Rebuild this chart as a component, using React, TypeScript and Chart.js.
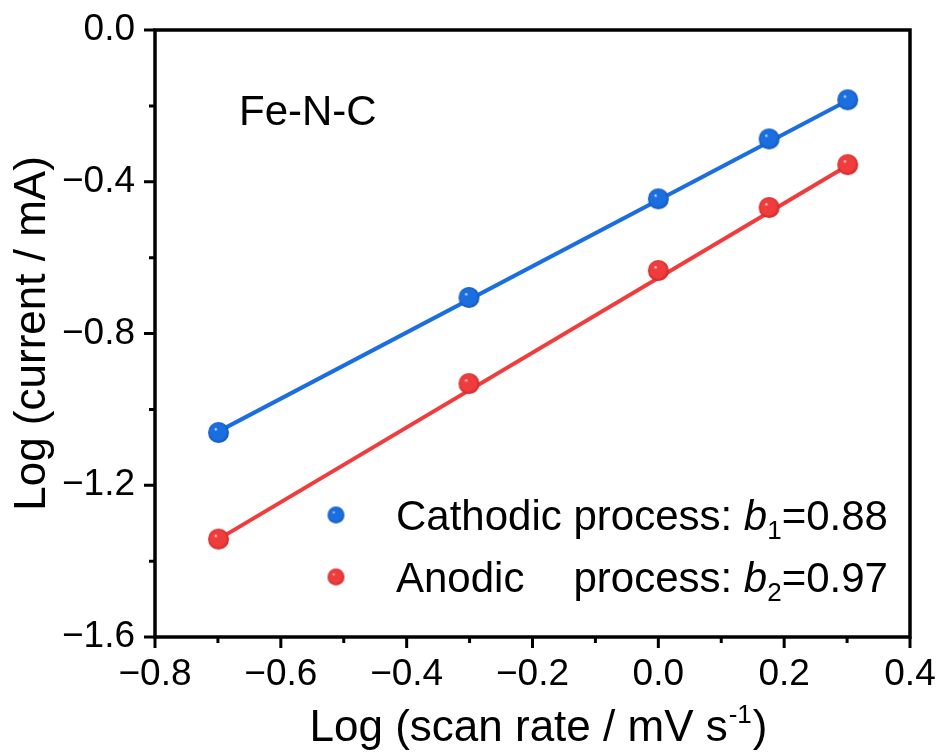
import React, { useEffect, useRef } from 'react';
import { Chart, registerables } from 'chart.js';

Chart.register(...registerables);

// ---- data ----
const scanRateLog = [-0.699, -0.301, 0, 0.176, 0.301];
const cathodicLogCurrent = [-1.061, -0.705, -0.445, -0.287, -0.184];
const anodicLogCurrent = [-1.342, -0.932, -0.634, -0.468, -0.355];
const cathodicFitX = [-0.699, 0.301];
const cathodicFitY = [-1.058, -0.186];
const anodicFitX = [-0.699, 0.301];
const anodicFitY = [-1.342, -0.357];
const xTicks = [-0.8, -0.6, -0.4, -0.2, 0.0, 0.2, 0.4];
const yTicks = [0.0, -0.4, -0.8, -1.2, -1.6];
const cathodicLabel = ['Cathodic', 'process:', 'b', '1', '=0.88'];
const anodicLabel = ['Anodic', 'process:', 'b', '2', '=0.97'];
const sampleLabel = 'Fe-N-C';
const xTitleMain = 'Log (scan rate / mV s';
const xTitleSup = '-1';
const xTitleEnd = ')';
const yTitle = 'Log (current / mA)';

const BLUE = '#1b6ee0';
const RED = '#f03c3c';
const BLUE_DARK = '#1457b8';
const RED_DARK = '#c82a2a';
const FONT = '"Liberation Sans", Arial, sans-serif';

function makeSphere(color: string, dark: string, r: number): HTMLCanvasElement {
  const c = document.createElement('canvas');
  const size = Math.ceil(r * 2 + 2);
  c.width = size;
  c.height = size;
  const g = c.getContext('2d')!;
  const cx = size / 2;
  const cy = size / 2;
  const grad = g.createRadialGradient(cx - r * 0.3, cy - r * 0.35, 0, cx, cy, r);
  grad.addColorStop(0, '#ffffff');
  grad.addColorStop(0.18, color);
  grad.addColorStop(0.75, color);
  grad.addColorStop(1, dark);
  g.fillStyle = grad;
  g.beginPath();
  g.arc(cx, cy, r, 0, Math.PI * 2);
  g.fill();
  return c;
}

const fmt = (v: number) => {
  const s = Math.abs(v) < 1e-9 ? '0.0' : v.toFixed(1);
  return s.replace('-', '\u2212');
};

const zeroPad = (s: any) => {
  s.paddingTop = 0;
  s.paddingBottom = 0;
  s.paddingLeft = 0;
  s.paddingRight = 0;
};

export default function App() {
  const ref = useRef<HTMLCanvasElement | null>(null);

  useEffect(() => {
    if (!ref.current) return;
    const blueBall = makeSphere(BLUE, BLUE_DARK, 10.5);
    const redBall = makeSphere(RED, RED_DARK, 10.5);
    const blueSmall = makeSphere(BLUE, BLUE_DARK, 8.5);
    const redSmall = makeSphere(RED, RED_DARK, 8.5);

    const decor = {
      id: 'decor',
      afterDraw(chart: any) {
        const ctx = chart.ctx as CanvasRenderingContext2D;
        const a = chart.chartArea;
        const xs = chart.scales.x;
        const ys = chart.scales.y;
        ctx.save();
        // frame
        ctx.strokeStyle = '#000';
        ctx.lineWidth = 3.5;
        ctx.strokeRect(a.left, a.top, a.right - a.left, a.bottom - a.top);
        // ticks
        ctx.lineWidth = 3;
        ctx.beginPath();
        for (let i = 0; i < xTicks.length; i++) {
          const px = xs.getPixelForValue(xTicks[i]);
          ctx.moveTo(px, a.bottom);
          ctx.lineTo(px, a.bottom + 11);
          if (i < xTicks.length - 1) {
            const mx = xs.getPixelForValue((xTicks[i] + xTicks[i + 1]) / 2);
            ctx.moveTo(mx, a.bottom);
            ctx.lineTo(mx, a.bottom + 6);
          }
        }
        for (let i = 0; i < yTicks.length; i++) {
          const py = ys.getPixelForValue(yTicks[i]);
          ctx.moveTo(a.left, py);
          ctx.lineTo(a.left - 11, py);
          if (i < yTicks.length - 1) {
            const my = ys.getPixelForValue((yTicks[i] + yTicks[i + 1]) / 2);
            ctx.moveTo(a.left, my);
            ctx.lineTo(a.left - 6, my);
          }
        }
        ctx.stroke();

        ctx.fillStyle = '#000';
        ctx.textBaseline = 'alphabetic';
        // x title
        const big = `44px ${FONT}`;
        const sup = `26px ${FONT}`;
        ctx.font = big;
        const w1 = ctx.measureText(xTitleMain).width;
        const w3 = ctx.measureText(xTitleEnd).width;
        ctx.font = sup;
        const w2 = ctx.measureText(xTitleSup).width;
        const total = w1 + w2 + w3 + 2;
        const cx = (a.left + a.right) / 2 + 6;
        const x0 = cx - total / 2;
        const by = a.bottom + 104;
        ctx.font = big;
        ctx.textAlign = 'left';
        ctx.fillText(xTitleMain, x0, by);
        ctx.font = sup;
        ctx.fillText(xTitleSup, x0 + w1 + 1, by - 18);
        ctx.font = big;
        ctx.fillText(xTitleEnd, x0 + w1 + w2 + 2, by);

        // y title
        ctx.save();
        ctx.translate(a.left - 122, (a.top + a.bottom) / 2);
        ctx.rotate(-Math.PI / 2);
        ctx.textAlign = 'center';
        ctx.textBaseline = 'middle';
        ctx.font = big;
        ctx.fillText(yTitle, 0, 0);
        ctx.restore();

        // sample label
        ctx.font = `42px ${FONT}`;
        ctx.textAlign = 'left';
        ctx.textBaseline = 'alphabetic';
        ctx.fillText(sampleLabel, a.left + 84, a.top + 95);

        // legend
        const lx = a.left + 241;
        const mxk = a.left + 181;
        const rows = [
          { lab: cathodicLabel, ball: blueSmall, y: a.top + 485 },
          { lab: anodicLabel, ball: redSmall, y: a.top + 547 },
        ];
        ctx.font = `42px ${FONT}`;
        const procX = lx + ctx.measureText(cathodicLabel[0] + ' ').width;
        for (const r of rows) {
          ctx.drawImage(r.ball, mxk - r.ball.width / 2, r.y - r.ball.height / 2);
          const base = r.y + 15;
          ctx.font = `42px ${FONT}`;
          ctx.fillText(r.lab[0], lx, base);
          let px = procX;
          const t = r.lab[1] + ' ';
          ctx.fillText(t, px, base);
          px += ctx.measureText(t).width;
          ctx.font = `italic 42px ${FONT}`;
          ctx.fillText(r.lab[2], px, base);
          px += ctx.measureText(r.lab[2]).width;
          ctx.font = `26px ${FONT}`;
          ctx.fillText(r.lab[3], px, base + 9);
          px += ctx.measureText(r.lab[3]).width;
          ctx.font = `42px ${FONT}`;
          ctx.fillText(r.lab[4], px, base);
        }
        ctx.restore();
      },
    };

    const chart = new Chart(ref.current, {
      type: 'line',
      data: {
        datasets: [
          {
            label: 'Cathodic',
            data: scanRateLog.map((x, i) => ({ x, y: cathodicLogCurrent[i] })),
            showLine: false,
            pointStyle: blueBall as any,
            pointRadius: 10,
          },
          {
            label: 'Anodic',
            data: scanRateLog.map((x, i) => ({ x, y: anodicLogCurrent[i] })),
            showLine: false,
            pointStyle: redBall as any,
            pointRadius: 10,
          },
          {
            label: 'Cathodic fit',
            data: cathodicFitX.map((x, i) => ({ x, y: cathodicFitY[i] })),
            borderColor: BLUE,
            borderWidth: 4,
            pointRadius: 0,
            fill: false,
          },
          {
            label: 'Anodic fit',
            data: anodicFitX.map((x, i) => ({ x, y: anodicFitY[i] })),
            borderColor: RED,
            borderWidth: 4,
            pointRadius: 0,
            fill: false,
          },
        ],
      },
      options: {
        animation: false,
        responsive: true,
        maintainAspectRatio: false,
        layout: { padding: { top: 30, right: 32, left: 0, bottom: 0 } },
        plugins: { legend: { display: false }, tooltip: { enabled: false } },
        scales: {
          x: {
            type: 'linear',
            min: -0.8,
            max: 0.4,
            afterBuildTicks: (s: any) => {
              s.ticks = xTicks.map((v) => ({ value: v }));
            },
            afterFit: (s: any) => {
              s.height = 116;
              zeroPad(s);
            },
            grid: { display: false, drawTicks: false },
            border: { display: false },
            ticks: {
              padding: 16,
              color: '#000',
              font: { family: FONT, size: 37 },
              maxRotation: 0,
              autoSkip: false,
              callback: (v: any) => fmt(Number(v)),
            },
          },
          y: {
            type: 'linear',
            min: -1.6,
            max: 0,
            afterBuildTicks: (s: any) => {
              s.ticks = yTicks.map((v) => ({ value: v }));
            },
            afterFit: (s: any) => {
              s.width = 155;
              zeroPad(s);
            },
            grid: { display: false, drawTicks: false },
            border: { display: false },
            ticks: {
              padding: 20,
              color: '#000',
              font: { family: FONT, size: 37 },
              autoSkip: false,
              callback: (v: any) => fmt(Number(v)),
            },
          },
        },
      },
      plugins: [decor],
    });
    return () => chart.destroy();
  }, []);

  return (
    <div style={{ position: 'absolute', left: 0, top: 0, width: 942, height: 753, background: '#fff' }}>
      <canvas ref={ref} />
    </div>
  );
}
